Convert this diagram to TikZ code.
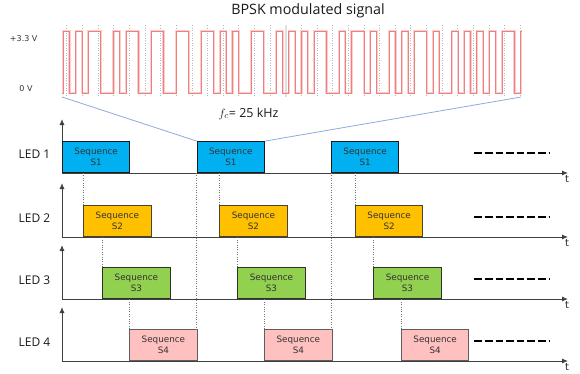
\documentclass[tikz,border=0pt]{standalone}
\usepackage{fontspec}
\setmainfont{DejaVu Sans}
\newfontfamily\headfont{Open Sans}
\usetikzlibrary{arrows.meta}

\definecolor{ledA}{HTML}{00B0F0}
\definecolor{ledB}{HTML}{FFC000}
\definecolor{ledC}{HTML}{92D050}
\definecolor{ledD}{HTML}{FFC0C0}
\definecolor{edgeA}{HTML}{1A1A1A}
\definecolor{edgeB}{HTML}{4D4430}
\definecolor{edgeC}{HTML}{2E3328}
\definecolor{edgeD}{HTML}{5E5E5E}
\definecolor{wave}{RGB}{240,128,128}
\definecolor{waveglow}{RGB}{252,205,205}
\definecolor{zoomline}{RGB}{143,170,220}

% half-period counts of the square-wave carrier (1 = normal, 2 = phase flip)
\newcommand\bpskruns{1,1,1,1,2,2,1,1,2,2,2,2,2,2,2,1,1,1,1,2,2,2,1,1,1,1,1,1,2,2,1,1,2,1,1,2,1,1,1,1,2,1,1,2,1,1,1,1,1,1,1,1,2,1}

\begin{document}
\begin{tikzpicture}[x=1pt, y=-1pt,
  seqbox/.style={line width=0.9pt, minimum width=67.4pt, minimum height=31pt,
    inner sep=0pt, anchor=south west, align=center,
    font=\fontsize{8.8}{11.2}\selectfont, text=black!80},
  axisline/.style={draw=black!75, line width=0.9pt, -{Latex[length=6pt,width=5pt]}},
  guide/.style={draw=black!55, line width=0.6pt, dash pattern=on 1pt off 1.4pt},
  gridline/.style={draw=black!28, line width=0.6pt, dash pattern=on 1pt off 1.5pt},
  dashtail/.style={draw=black, line width=1.4pt, dash pattern=on 7.6pt off 3pt},
  ledlabel/.style={anchor=base, font=\headfont\fontsize{12}{14}\selectfont, text=black!90},
  tlabel/.style={anchor=base, font=\fontsize{10}{12}\selectfont, text=black!85},
  voltlabel/.style={anchor=base, font=\fontsize{8}{10}\selectfont, text=black!80},
  waveline/.style={draw=wave, line width=0.8pt, line join=miter},
  waveunder/.style={draw=waveglow, line width=2.2pt, line join=miter}
]
\useasboundingbox (0,0) rectangle (580,373);

% title
\node[anchor=base, font=\headfont\fontsize{14.3}{16}\selectfont, text=black!90]
  (title) at (308,14.5) {BPSK modulated signal};

% voltage levels
\node[voltlabel] (vhigh) at (23.7,41) {+3.3 V};
\node[voltlabel] (vlow) at (26,91) {0 V};

% symbol grid behind the carrier
\foreach \k in {0,...,29}
  \draw[gridline] ({66.7+\k*15.64},25) -- ({66.7+\k*15.64},97);
\draw[draw=black!12, line width=2.2pt] (285.7,25) -- (285.7,97);

% BPSK carrier
\begin{scope}[shift={(63.3pt,-93pt)}, x=6.266pt, y=62pt]
  \draw[waveunder] (-0.2,0) -- (0,0)
    \foreach \d [count=\n] in \bpskruns { -- ++(0,{1-2*mod(\n+1,2)}) -- ++(\d,0) }
    -- ++(0,1) -- ++(0.2,0);
  \draw[waveline] (-0.2,0) -- (0,0)
    \foreach \d [count=\n] in \bpskruns { -- ++(0,{1-2*mod(\n+1,2)}) -- ++(\d,0) }
    -- ++(0,1) -- ++(0.2,0);
\end{scope}

% carrier frequency
\node[anchor=base, font=\headfont\fontsize{12.5}{15}\selectfont, text=black!90]
  (fc) at (248.5,117) {$f_c$= 25 kHz};

% time axes, LED names and continuation marks
\foreach \i/\b in {1/173,2/237,3/299,4/361} {
  \coordinate (o\i) at (62,\b);
  \coordinate (ty\i) at (62,\b-54);
  \coordinate (tx\i) at (568,\b);
  \draw[axisline] (o\i) -- (ty\i);
  \draw[axisline] (o\i) -- (tx\i);
  \node[tlabel] (t\i) at (567,\b+9.5) {t};
  \node[ledlabel] (led\i) at (34.5,\b-15) {LED \i};
  \coordinate (da\i) at (474.3,\b-20);
  \coordinate (db\i) at (550,\b-20);
  \draw[dashtail] (da\i) -- (db\i);
}

% sequence slots
\foreach \i/\b/\fc/\dc/\xa/\xb/\xc in {
    1/173/ledA/edgeA/62/196.7/331,
    2/237/ledB/edgeB/83.3/219.3/355,
    3/299/ledC/edgeC/102.3/237.3/373.3,
    4/361/ledD/edgeD/129.3/264.2/401} {
  \node[seqbox, fill=\fc, draw=\dc] (s\i-1) at (\xa,\b) {Sequence\\S\i};
  \node[seqbox, fill=\fc, draw=\dc] (s\i-2) at (\xb,\b) {Sequence\\S\i};
  \node[seqbox, fill=\fc, draw=\dc] (s\i-3) at (\xc,\b) {Sequence\\S\i};
}

% start of each slot referred to the axis above
\foreach \i/\j in {2/1,3/2,4/3}
  \foreach \k in {1,2,3}
    \draw[guide] (s\i-\k.north west) -- (s\i-\k.north west |- o\j);
\draw[guide] (s1-2.south west) -- (s1-2.south west |- s4-1.north east);
\draw[guide] (s1-3.south west) -- (s1-3.south west |- s4-2.north east);

% zoom lines from the carrier to the second S1 slot
\coordinate (zl) at (62,97);
\coordinate (zr) at (521,97);
\draw[zoomline, line width=0.8pt] (zl) -- (s1-2.north west);
\draw[zoomline, line width=0.8pt] (zr) -- (s1-2.north east);
\end{tikzpicture}
\end{document}
